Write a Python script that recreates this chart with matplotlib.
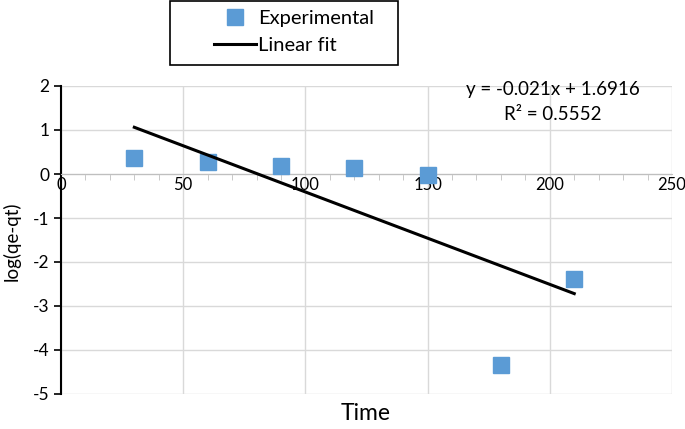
import matplotlib
matplotlib.use('Agg')
import matplotlib.pyplot as plt
import numpy as np
from matplotlib.ticker import MultipleLocator
from matplotlib.patches import Rectangle

# data
time = [30, 60, 90, 120, 150, 180, 210]
log_qe_qt = [0.36, 0.27, 0.19, 0.13, -0.02, -4.34, -2.39]
slope = -0.021
intercept = 1.6916
r_squared = 0.5552

plt.rcParams['font.family'] = ['Lato', 'DejaVu Sans']
plt.rcParams['axes.unicode_minus'] = False

W, H = 685, 429
fig = plt.figure(figsize=(6.85, 4.29), dpi=100)
ax = fig.add_axes([61 / W, 1 - 394 / H, 611 / W, 308 / H])

ax.plot(time, log_qe_qt, 's', color='#5B9BD5', markersize=11,
        markeredgecolor='#5B9BD5', label='Experimental', zorder=3)
fit_x = np.array([time[0], time[-1]])
ax.plot(fit_x, slope * fit_x + intercept, color='black', lw=2.2,
        label='Linear fit', zorder=4)

ax.set_xlim(0, 250)
ax.set_ylim(-5, 2)
ax.xaxis.set_major_locator(MultipleLocator(50))
ax.xaxis.set_minor_locator(MultipleLocator(10))
ax.yaxis.set_major_locator(MultipleLocator(1))
ax.grid(True, which='major', color='#D9D9D9', lw=1.0)
ax.set_axisbelow(True)

ax.spines['top'].set_visible(False)
ax.spines['right'].set_visible(False)
ax.spines['bottom'].set_position(('data', 0))
ax.spines['bottom'].set_color('#BFBFBF')
ax.spines['left'].set_color('black')
ax.spines['left'].set_linewidth(1.5)

ax.tick_params(axis='x', which='both', direction='out', color='#BFBFBF',
               labelsize=12, pad=2, length=4)
ax.tick_params(axis='x', which='major', length=0)
ax.tick_params(axis='y', direction='out', color='black', width=1.2,
               length=5, labelsize=12.5)

fig.text(366 / W, 1 - 414 / H, 'Time', ha='center', va='center', fontsize=16.5)
fig.text(12 / W, 1 - 241 / H, 'log(qe-qt)', ha='center', va='center',
         rotation=90, fontsize=13.5)

ax.text(553 / W, 1 - 90 / H, f'y = {slope}x + {intercept}',
        transform=fig.transFigure, ha='center', va='center', fontsize=13.5)
ax.text(553 / W, 1 - 114 / H, f'R\u00b2 = {r_squared}',
        transform=fig.transFigure, ha='center', va='center', fontsize=13.5)

# legend frame drawn separately (Excel-style wide padding)
fig.patches.append(Rectangle((170 / W, 1 - 65 / H), 228 / W, 64 / H,
                             transform=fig.transFigure, fill=False,
                             edgecolor='black', lw=1.2))
fig.legend(loc='center left', bbox_to_anchor=(204 / W, 1 - 32 / H),
           fontsize=14.5, frameon=False, handlelength=2.1,
           labelspacing=0.45, handletextpad=0.1, borderpad=0)

fig.savefig('out.png', dpi=100)
